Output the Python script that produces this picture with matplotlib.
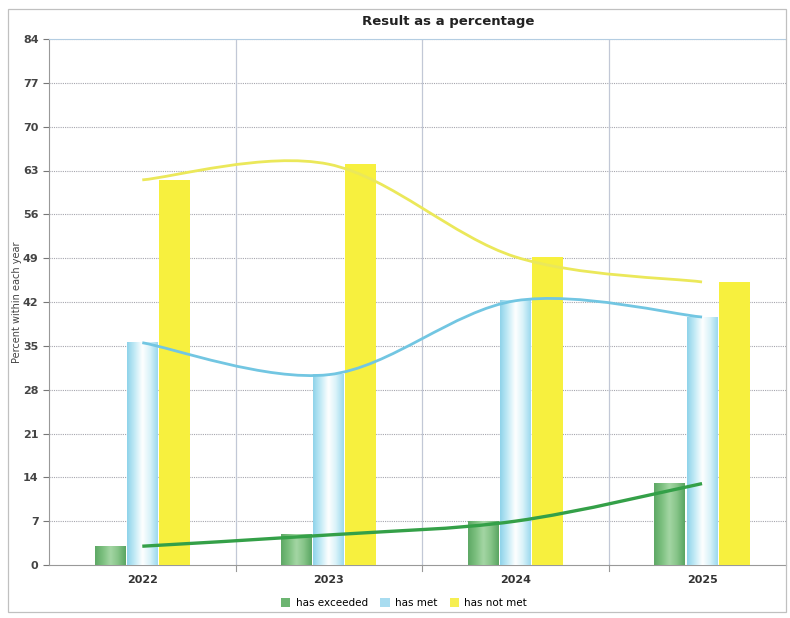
import numpy as np
import matplotlib.pyplot as plt
from matplotlib.path import Path
from matplotlib.patches import PathPatch, Patch, Rectangle
from matplotlib.colors import LinearSegmentedColormap

# Resultados por ano (%)
anos = ["2022", "2023", "2024", "2025"]
has_exceeded = [3.0, 4.8, 7.0, 13.0]
has_met = [35.5, 30.4, 42.2, 39.6]
has_not_met = [61.5, 64.0, 49.2, 45.2]

y_ticks = [0, 7, 14, 21, 28, 35, 42, 49, 56, 63, 70, 77, 84]


def curva_suave(ax, x, y, cor, lw=2.2, z=5):
    """Curva Catmull-Rom desenhada como Bezier cúbica pelos pontos dados."""
    x = np.asarray(x, float)
    y = np.asarray(y, float)
    pts = np.column_stack([x, y])
    ext = np.vstack([pts[0], pts, pts[-1]])
    verts = [tuple(pts[0])]
    codes = [Path.MOVETO]
    for i in range(1, len(ext) - 2):
        p0, p1, p2, p3 = ext[i - 1], ext[i], ext[i + 1], ext[i + 2]
        c1 = p1 + (p2 - p0) / 6.0
        c2 = p2 - (p3 - p1) / 6.0
        verts += [tuple(c1), tuple(c2), tuple(p2)]
        codes += [Path.CURVE4] * 3
    ax.add_patch(PathPatch(Path(verts, codes), facecolor="none", edgecolor=cor,
                           lw=lw, zorder=z, capstyle="butt"))


def barra_gradiente(ax, xc, altura, largura, cmap, z=3):
    """Barra com sombreamento horizontal (efeito cilindro)."""
    grad = np.linspace(0, 1, 64).reshape(1, -1)
    ax.imshow(grad, cmap=cmap, aspect="auto", interpolation="bicubic",
              extent=(xc - largura / 2, xc + largura / 2, 0, altura), zorder=z)


verde = LinearSegmentedColormap.from_list(
    "verde", ["#5ea865", "#7cc07f", "#a4d6a4", "#86c488", "#5aa562"])
azul = LinearSegmentedColormap.from_list(
    "azul", ["#8fd3ea", "#c4ebf6", "#ffffff", "#d8f2f9", "#9cd9ee"])
amarelo = "#f7f03e"

fig = plt.figure(figsize=(7.9, 6.18), dpi=100)
ax = fig.add_axes([49 / 790, 53 / 618, 737 / 790, 526 / 618])

x = np.arange(len(anos))
w = 0.166
d = 0.172

for i in range(len(anos)):
    barra_gradiente(ax, x[i] - d, has_exceeded[i], w, verde)
    barra_gradiente(ax, x[i], has_met[i], w, azul)
    ax.bar(x[i] + d, has_not_met[i], width=w, color=amarelo, zorder=3)

# Linhas de tendência suavizadas
curva_suave(ax, x, has_not_met, "#ebe85a", lw=2.0)
curva_suave(ax, x, has_met, "#72c6e2", lw=2.0)
curva_suave(ax, x, has_exceeded, "#34a048", lw=2.4)

ax.set_xlim(-0.5, 3.45)
ax.set_ylim(0, 84)
ax.set_yticks(y_ticks)
ax.set_xticks(x)
ax.set_xticklabels(anos, fontsize=8, fontweight="bold", color="#333333")
ax.tick_params(axis="x", length=0, pad=7)
ax.tick_params(axis="y", labelsize=8, colors="#777777", length=4, width=0.8)
for lbl in ax.get_yticklabels():
    lbl.set_fontweight("bold")
    lbl.set_color("#444444")

# Grade: horizontais pontilhadas, verticais entre os anos
for yt in y_ticks[1:]:
    ax.axhline(yt, color="#a6a6ae", lw=0.8, ls=(0, (1, 1)), zorder=1)
for xv in [0.5, 1.5, 2.5]:
    ax.axvline(xv, color="#c2c8d6", lw=0.9, zorder=1)
    ax.plot([xv, xv], [0, -0.9], color="#999999", lw=0.8, clip_on=False)

ax.spines["right"].set_visible(False)
ax.spines["top"].set_color("#b4cde2")
ax.spines["left"].set_color("#999999")
ax.spines["bottom"].set_color("#999999")

ax.set_ylabel("Percent within each year", fontsize=7, color="#444444")
ax.yaxis.set_label_coords(-0.037, 0.5)

fig.text(448 / 790, 1 - 22 / 618, "Result as a percentage", ha="center", va="center",
         fontsize=9.5, fontweight="bold", color="#222222")

handles = [Patch(facecolor="#6cb571", edgecolor="none"),
           Patch(facecolor="#a8dcf0", edgecolor="none"),
           Patch(facecolor="#f6ef52", edgecolor="none")]
fig.legend(handles, ["has exceeded", "has met", "has not met"], loc="center",
           bbox_to_anchor=(404 / 790, 1 - 603 / 618), ncol=3, frameon=False,
           fontsize=7.5, handlelength=0.9, handleheight=0.9, columnspacing=1.2,
           handletextpad=0.5)

# Moldura externa
fig.patches.append(Rectangle((8 / 790, 6 / 618), 778 / 790, 603 / 618,
                             transform=fig.transFigure, fill=False,
                             edgecolor="#c0c0c0", lw=0.9))

fig.savefig("out.png", dpi=100)
